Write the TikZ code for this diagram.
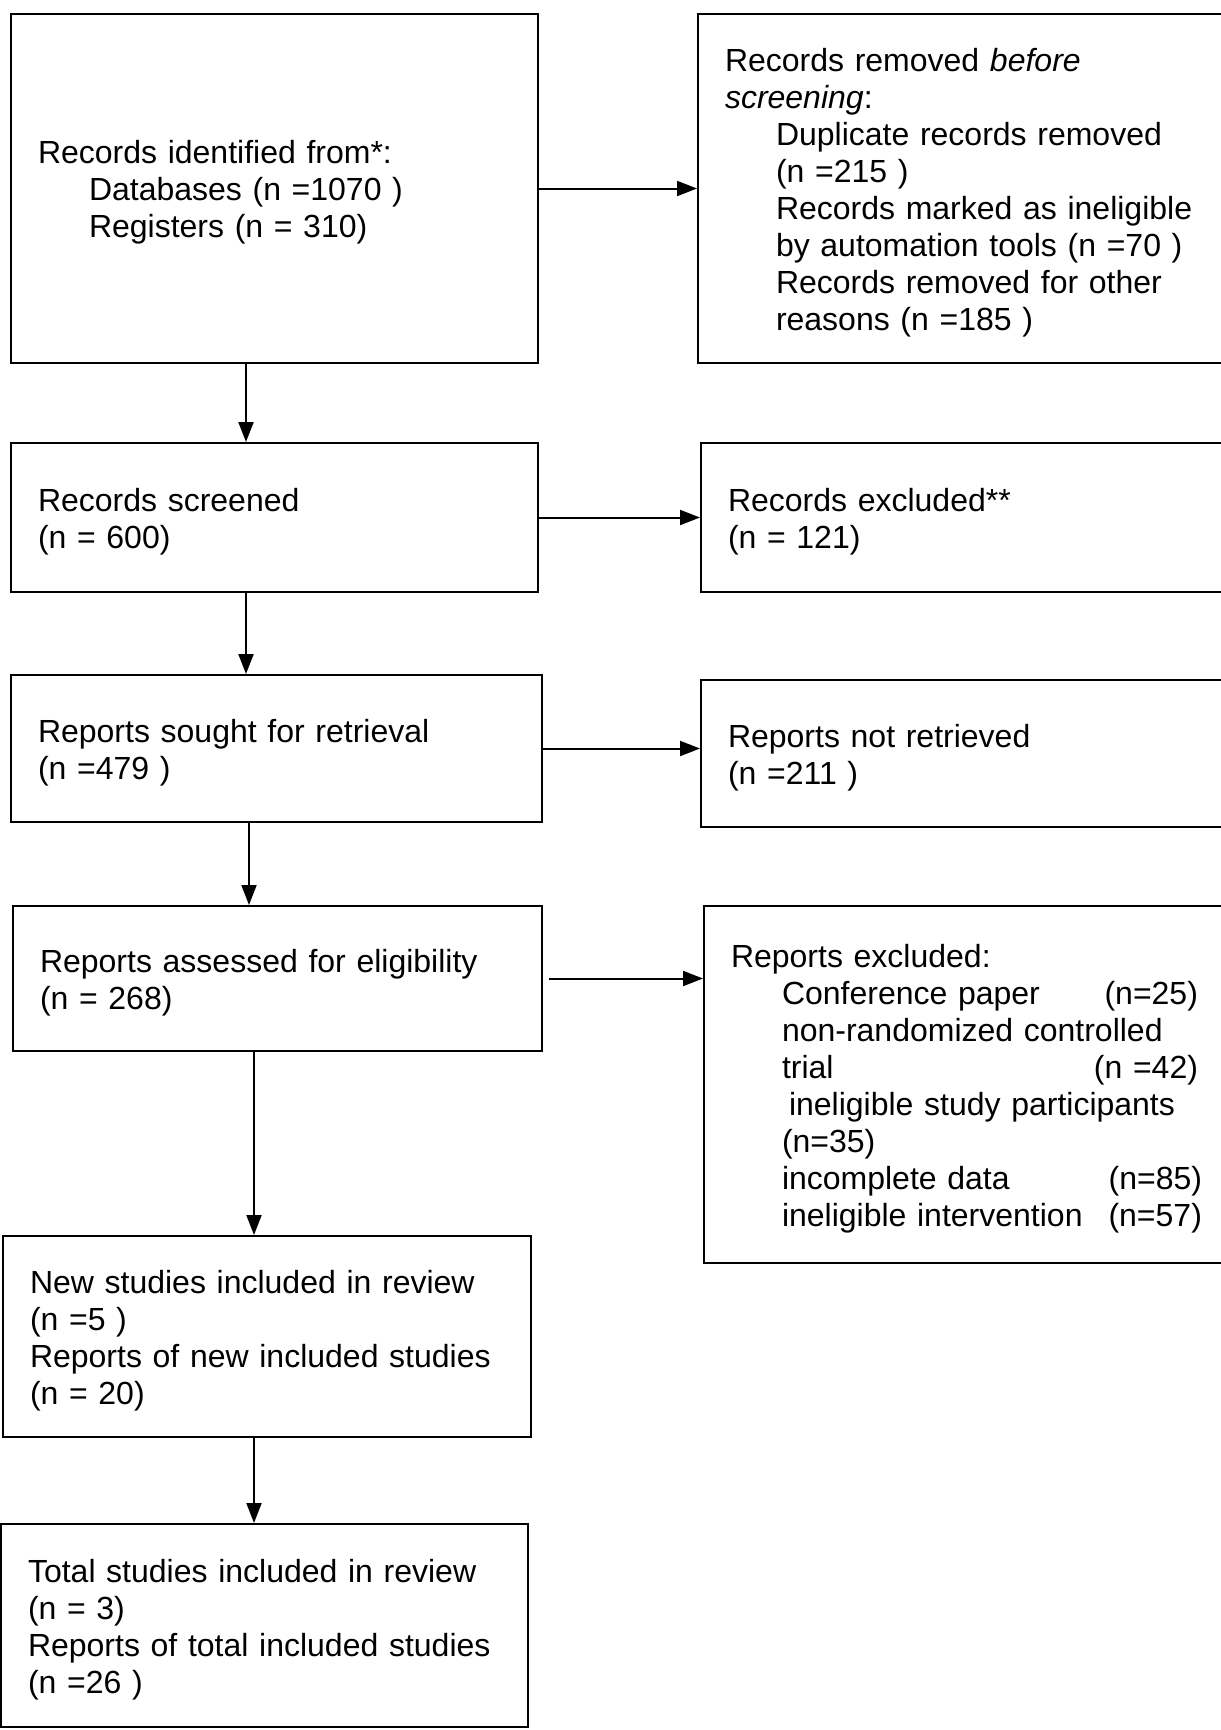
\documentclass[tikz,border=0pt]{standalone}
\usepackage{fontspec}
\setmainfont{Liberation Sans}
\usetikzlibrary{arrows, arrows.meta}
\tikzset{
  flowbox/.style = {align=left, inner xsep=27pt, inner ysep=0pt,
    execute at begin node=\rule{0pt}{31pt}, font=\fontsize{32}{37}\selectfont},
  box_n/.style = {flowbox, rectangle, draw=black, line width=2pt,
    fill=white}}
\newcommand{\indln}{\hspace*{51pt}}

\begin{document}
\begin{tikzpicture}[->,>={Triangle[length=20pt,width=15pt]}, x=1pt, y=-1pt,
  line width=2pt]
\clip (0,0) rectangle (1221,1730);

% left column
\node [box_n, text width=473pt, minimum height=349pt] (ident) at (274.5,188.5)
  {Records identified from*:\\ \indln Databases (n =1070 )\\ \indln Registers (n = 310)};
\node [box_n, text width=473pt, minimum height=149pt] (screened) at (274.5,517.5)
  {Records screened\\(n = 600)};
\node [box_n, text width=477pt, minimum height=147pt] (sought) at (276.5,748.5)
  {Reports sought for retrieval\\(n =479 )};
\node [box_n, text width=475pt, minimum height=145pt] (assessed) at (277.5,978.5)
  {Reports assessed for eligibility\\(n = 268)};
\node [box_n, text width=474pt, minimum height=201pt] (newinc) at (267,1336.5)
  {New studies included in review\\(n =5 )\\Reports of new included studies\\(n = 20)};
\node [box_n, text width=473pt, minimum height=203pt] (totinc) at (264.5,1625.5)
  {Total studies included in review\\(n = 3)\\Reports of total included studies\\(n =26 )};

% right column
\node [box_n, text width=506pt, minimum height=349pt] (removed) at (978,188.5)
  {Records removed \textit{before}\\ \textit{screening}:\\
   \indln Duplicate records removed\\ \indln (n =215 )\\
   \indln Records marked as ineligible\\ \indln by automation tools (n =70 )\\
   \indln Records removed for other\\ \indln reasons (n =185 )};
\node [box_n, text width=503pt, minimum height=149pt] (excluded) at (979.5,517.5)
  {Records excluded**\\(n = 121)};
\node [box_n, text width=503pt, minimum height=147pt] (notretr) at (979.5,753.5)
  {Reports not retrieved\\(n =211 )};
\node [box_n, text width=500pt, minimum height=357pt] (repexcl) at (981,1084.5)
  {Reports excluded:\\
   \indln\makebox[416pt][l]{Conference paper\hfill(n=25)}\\
   \indln non-randomized controlled\\
   \indln\makebox[416pt][l]{trial\hfill(n =42)}\\
   \hspace*{58pt}ineligible study participants\\
   \indln (n=35)\\
   \indln\makebox[420pt][l]{incomplete data\hfill(n=85)}\\
   \indln\makebox[420pt][l]{ineligible intervention\hfill(n=57)}};

\draw (ident.east) -- (removed.west);
\draw (screened.east) -- (excluded.west);
\draw (sought.east) -- (sought.east -| notretr.west);
\draw [shorten <=6pt] (assessed.east) -- (assessed.east -| repexcl.west);

\draw ([xshift=-28.5]ident.south) -- ([xshift=-28.5]ident.south |- screened.north);
\draw ([xshift=-28.5]screened.south) -- ([xshift=-28.5]screened.south |- sought.north);
\draw ([xshift=-27.5]sought.south) -- ([xshift=-27.5]sought.south |- assessed.north);
\draw ([xshift=-23.5]assessed.south) -- ([xshift=-23.5]assessed.south |- newinc.north);
\draw ([xshift=-13]newinc.south) -- ([xshift=-13]newinc.south |- totinc.north);
\end{tikzpicture}
\end{document}
